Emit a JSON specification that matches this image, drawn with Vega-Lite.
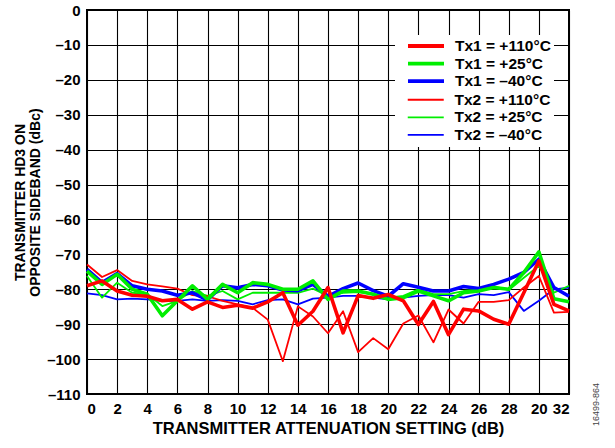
{
  "$schema": "https://vega.github.io/schema/vega-lite/v6.json",
  "width": 482,
  "height": 384,
  "autosize": {"type": "none"},
  "padding": {"left": 87, "top": 10, "right": 46, "bottom": 54},
  "background": "white",
  "config": {
    "font": "Liberation Sans",
    "view": {"stroke": "#000", "strokeWidth": 2},
    "axis": {
      "labelFont": "Liberation Sans",
      "labelFontSize": 15,
      "labelFontWeight": "bold",
      "labelColor": "#000",
      "titleFont": "Liberation Sans",
      "titleFontSize": 14,
      "titleFontWeight": "bold",
      "titleColor": "#000",
      "gridColor": "#000",
      "gridOpacity": 1,
      "gridWidth": 1.1,
      "ticks": false,
      "domain": false
    },
    "legend": {
      "orient": "none",
      "title": null,
      "fillColor": "white",
      "padding": 3,
      "labelFont": "Liberation Sans",
      "labelFontSize": 15.5,
      "labelFontWeight": "bold",
      "labelColor": "#000",
      "symbolType": "M-3,0H3",
      "symbolSize": 144,
      "symbolOffset": 20,
      "labelOffset": 21,
      "rowPadding": 0.6
    }
  },
  "title": {
    "text": "16499-864",
    "orient": "right",
    "anchor": "end",
    "frame": "group",
    "angle": 270,
    "dx": 11,
    "fontSize": 9,
    "fontWeight": "normal",
    "color": "#444",
    "offset": 12
  },
  "data": {
    "values": [
      {"x": 0, "r1": -79, "g1": -74.8, "b1": -74.3, "r2": -72.9, "g2": -76.2, "b2": -81.2},
      {"x": 1, "r1": -77.6, "g1": -78.6, "b1": -78.1, "r2": -76.5, "g2": -82.4, "b2": -81.7},
      {"x": 2, "r1": -80.5, "g1": -75.7, "b1": -75.5, "r2": -74.5, "g2": -78.1, "b2": -82.9},
      {"x": 3, "r1": -81.7, "g1": -80, "b1": -79, "r2": -77.6, "g2": -81, "b2": -82.7},
      {"x": 4, "r1": -82, "g1": -81.4, "b1": -80, "r2": -78.6, "g2": -81.4, "b2": -82.9},
      {"x": 5, "r1": -83.3, "g1": -87.6, "b1": -80.5, "r2": -79.2, "g2": -84.8, "b2": -83.3},
      {"x": 6, "r1": -82.9, "g1": -83.3, "b1": -81.7, "r2": -79.8, "g2": -83.3, "b2": -83.3},
      {"x": 7, "r1": -85.7, "g1": -79, "b1": -81, "r2": -81.7, "g2": -80.5, "b2": -82.9},
      {"x": 8, "r1": -83.6, "g1": -82.9, "b1": -83, "r2": -82, "g2": -81.9, "b2": -83.3},
      {"x": 9, "r1": -85.2, "g1": -78.6, "b1": -79, "r2": -83.3, "g2": -80.5, "b2": -83.1},
      {"x": 10, "r1": -84.6, "g1": -81, "b1": -79.6, "r2": -84.3, "g2": -82.9, "b2": -83.3},
      {"x": 11, "r1": -85.4, "g1": -78.1, "b1": -78.6, "r2": -85.3, "g2": -81, "b2": -84.3},
      {"x": 12, "r1": -83.6, "g1": -78.6, "b1": -79, "r2": -88.7, "g2": -81, "b2": -83.1},
      {"x": 13, "r1": -81, "g1": -80, "b1": -80.2, "r2": -100.6, "g2": -81, "b2": -82.9},
      {"x": 14, "r1": -90.3, "g1": -80, "b1": -80.4, "r2": -84.9, "g2": -81, "b2": -84.3},
      {"x": 15, "r1": -86.3, "g1": -77.6, "b1": -78.6, "r2": -87.8, "g2": -79.8, "b2": -82.7},
      {"x": 16, "r1": -79.5, "g1": -82.9, "b1": -82, "r2": -92.6, "g2": -81.9, "b2": -82.4},
      {"x": 17, "r1": -92.5, "g1": -80.5, "b1": -79.8, "r2": -86.3, "g2": -81, "b2": -81.9},
      {"x": 18, "r1": -81.8, "g1": -80.5, "b1": -78.2, "r2": -98, "g2": -80.8, "b2": -81.9},
      {"x": 19, "r1": -82.6, "g1": -81.4, "b1": -80.4, "r2": -94, "g2": -81.4, "b2": -82.4},
      {"x": 20, "r1": -81.5, "g1": -82.9, "b1": -82, "r2": -97.2, "g2": -82.4, "b2": -82.9},
      {"x": 21, "r1": -83.3, "g1": -82.4, "b1": -78.4, "r2": -89.8, "g2": -81.9, "b2": -82.4},
      {"x": 22, "r1": -90.1, "g1": -80.5, "b1": -79.4, "r2": -87.5, "g2": -80, "b2": -81.9},
      {"x": 23, "r1": -83.5, "g1": -81.9, "b1": -80.5, "r2": -95.2, "g2": -81.4, "b2": -81.7},
      {"x": 24, "r1": -93, "g1": -83.3, "b1": -80.5, "r2": -85.8, "g2": -81.4, "b2": -81.7},
      {"x": 25, "r1": -85.7, "g1": -81, "b1": -79.2, "r2": -89.8, "g2": -80.5, "b2": -82.4},
      {"x": 26, "r1": -86.2, "g1": -80.5, "b1": -79.8, "r2": -83.6, "g2": -80, "b2": -81.4},
      {"x": 27, "r1": -88.6, "g1": -79.5, "b1": -78.6, "r2": -83.6, "g2": -79.2, "b2": -81.7},
      {"x": 28, "r1": -90, "g1": -80, "b1": -77.1, "r2": -83.1, "g2": -80.2, "b2": -80.8},
      {"x": 29, "r1": -81, "g1": -75.2, "b1": -75.2, "r2": -79.5, "g2": -76.7, "b2": -86.2},
      {"x": 30, "r1": -71.9, "g1": -69.3, "b1": -71.4, "r2": -76.2, "g2": -73.3, "b2": -83.3},
      {"x": 31, "r1": -84.3, "g1": -82.7, "b1": -79.5, "r2": -86.7, "g2": -81, "b2": -80},
      {"x": 32, "r1": -86.2, "g1": -83.6, "b1": -82, "r2": -86.5, "g2": -79, "b2": -79.5}
    ]
  },
  "transform": [
    {"fold": ["b2", "g2", "r2", "b1", "g1", "r1"], "as": ["key", "value"]},
    {"lookup": "key", "from": {"data": {"values": [
      {"key": "r1", "series": "Tx1 = +110°C"},
      {"key": "g1", "series": "Tx1 = +25°C"},
      {"key": "b1", "series": "Tx1 = –40°C"},
      {"key": "r2", "series": "Tx2 = +110°C"},
      {"key": "g2", "series": "Tx2 = +25°C"},
      {"key": "b2", "series": "Tx2 = –40°C"}
    ]}, "key": "key", "fields": ["series"]}}
  ],
  "encoding": {
    "x": {
      "field": "x",
      "type": "quantitative",
      "scale": {"domain": [0, 32], "nice": false, "zero": false},
      "axis": {
        "values": [0, 2, 4, 6, 8, 10, 12, 14, 16, 18, 20, 22, 24, 26, 28, 30, 32],
        "labelExpr": "datum.value == 30 ? '20' : datum.label",
        "labelPadding": 7,
        "title": "TRANSMITTER ATTENUATION SETTING (dB)",
        "titleFontSize": 16.5,
        "titlePadding": 4
      }
    },
    "y": {
      "field": "value",
      "type": "quantitative",
      "scale": {"domain": [-110, 0], "nice": false},
      "axis": {
        "values": [0, -10, -20, -30, -40, -50, -60, -70, -80, -90, -100, -110],
        "labelExpr": "datum.value == 0 ? '0' : '–' + abs(datum.value)",
        "labelPadding": 7,
        "title": ["TRANSMITTER HD3 ON", "OPPOSITE SIDEBAND (dBc)"],
        "titlePadding": 4,
        "titleLineHeight": 15
      }
    }
  },
  "layer": [
    {
      "transform": [{"filter": "indexof(datum.series, 'Tx2') == 0"}],
      "mark": {"type": "line", "strokeWidth": 1.8, "strokeJoin": "round"},
      "encoding": {
        "color": {
          "field": "series",
          "type": "nominal",
          "scale": {
            "domain": ["Tx2 = +110°C", "Tx2 = +25°C", "Tx2 = –40°C"],
            "range": ["#ff0000", "#00ee00", "#0000ff"]
          },
          "legend": {
            "legendX": 308,
            "legendY": 79,
            "symbolStrokeWidth": 1.8
          }
        }
      }
    },
    {
      "transform": [{"filter": "indexof(datum.series, 'Tx1') == 0"}],
      "mark": {"type": "line", "strokeWidth": 3.6, "strokeJoin": "round"},
      "encoding": {
        "color": {
          "field": "series",
          "type": "nominal",
          "scale": {
            "domain": ["Tx1 = +110°C", "Tx1 = +25°C", "Tx1 = –40°C"],
            "range": ["#ff0000", "#00ee00", "#0000ff"]
          },
          "legend": {
            "legendX": 308,
            "legendY": 25,
            "symbolStrokeWidth": 3.8
          }
        }
      }
    }
  ],
  "resolve": {"scale": {"color": "independent"}, "legend": {"color": "independent"}}
}
